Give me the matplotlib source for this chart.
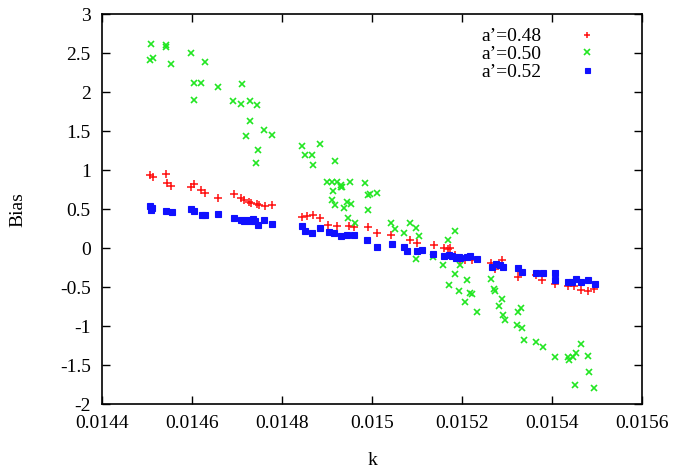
import matplotlib
matplotlib.use("Agg")
import matplotlib.pyplot as plt

plt.rcParams["font.family"] = ["Liberation Serif", "DejaVu Serif"]

# a'=0.48 (red +)
k_048 = [0.014506, 0.014513, 0.014542, 0.014544, 0.014554, 0.014598, 0.014604, 0.014621,
         0.01463, 0.014659, 0.014694, 0.01471, 0.014716, 0.014726, 0.014731, 0.014744,
         0.014748, 0.014763, 0.014779, 0.014844, 0.014856, 0.014868, 0.014885, 0.014902,
         0.014922, 0.014948, 0.014959, 0.014991, 0.01501, 0.015041, 0.015085, 0.0151,
         0.015137, 0.015159, 0.015174, 0.015168, 0.015185, 0.015196, 0.015207, 0.015222,
         0.015263, 0.015272, 0.015289, 0.015324, 0.01533, 0.015364, 0.015378, 0.015406,
         0.015436, 0.015448, 0.015463, 0.01548, 0.015492]
bias_048 = [0.94, 0.91, 0.95, 0.83, 0.80, 0.79, 0.82, 0.74,
            0.71, 0.64, 0.69, 0.64, 0.62, 0.59, 0.58, 0.56,
            0.55, 0.54, 0.55, 0.40, 0.41, 0.42, 0.38, 0.30,
            0.29, 0.29, 0.27, 0.27, 0.19, 0.17, 0.11, 0.06,
            0.04, 0.00, 0.00, -0.01, -0.09, -0.15, -0.15, -0.15,
            -0.19, -0.27, -0.15, -0.37, -0.30, -0.35, -0.41, -0.46,
            -0.49, -0.49, -0.54, -0.55, -0.53]

# a'=0.50 (green x)
k_050 = [0.014509, 0.014543, 0.014543, 0.014506, 0.014513, 0.014554, 0.014598, 0.01463,
         0.014604, 0.014621, 0.014604, 0.014659, 0.014712, 0.014692, 0.01471, 0.01473,
         0.014744, 0.014728, 0.01472, 0.01476, 0.014779, 0.014746, 0.014742, 0.014844,
         0.014885, 0.014852, 0.014867, 0.014868, 0.014918, 0.014901, 0.014911, 0.014922,
         0.01493, 0.01495, 0.014913, 0.01493, 0.014933, 0.014985, 0.014992, 0.014996,
         0.01501, 0.014911, 0.014917, 0.014944, 0.014953, 0.014938, 0.014992, 0.014947,
         0.014963, 0.015043, 0.01505, 0.015085, 0.015098, 0.015104, 0.01507, 0.015168,
         0.015185, 0.015098, 0.015136, 0.015158, 0.015195, 0.015185, 0.015211, 0.01517,
         0.015192, 0.015217, 0.015222, 0.015206, 0.015232, 0.015264, 0.01527, 0.015272,
         0.015289, 0.015281, 0.01529, 0.015295, 0.01533, 0.015324, 0.015322, 0.015332,
         0.015338, 0.015364, 0.015379, 0.015406, 0.015436, 0.015438, 0.015446, 0.015453,
         0.015463, 0.01548, 0.01545, 0.015481, 0.015493]
bias_050 = [2.62, 2.61, 2.58, 2.41, 2.44, 2.36, 2.50, 2.38,
            2.12, 2.12, 1.90, 2.06, 2.11, 1.89, 1.85, 1.88,
            1.84, 1.63, 1.44, 1.51, 1.45, 1.26, 1.09, 1.31,
            1.33, 1.20, 1.20, 1.06, 1.12, 0.85, 0.85, 0.85,
            0.81, 0.85, 0.73, 0.78, 0.78, 0.84, 0.68, 0.70,
            0.71, 0.62, 0.55, 0.59, 0.56, 0.51, 0.49, 0.38,
            0.32, 0.32, 0.24, 0.32, 0.26, 0.15, 0.19, 0.10,
            0.22, -0.14, -0.12, -0.22, -0.22, -0.33, -0.41, -0.47,
            -0.55, -0.58, -0.59, -0.69, -0.82, -0.40, -0.53, -0.55,
            -0.65, -0.74, -0.86, -0.92, -0.77, -0.82, -0.99, -1.03,
            -1.18, -1.20, -1.27, -1.40, -1.39, -1.44, -1.40, -1.35,
            -1.23, -1.38, -1.76, -1.59, -1.79]

# a'=0.52 (blue squares)
k_052 = [0.014507, 0.014509, 0.014511, 0.014543, 0.014556, 0.014598, 0.014604, 0.014622,
         0.01463, 0.014658, 0.014694, 0.01471, 0.014716, 0.014722, 0.01473, 0.014735,
         0.014741, 0.014747, 0.014761, 0.014779, 0.014844, 0.014852, 0.014867, 0.014885,
         0.014904, 0.014915, 0.01493, 0.014944, 0.014959, 0.014989, 0.01501, 0.015044,
         0.01507, 0.015078, 0.0151, 0.015111, 0.015136, 0.015159, 0.015178, 0.015192,
         0.01521, 0.01517, 0.015187, 0.015196, 0.015218, 0.015232, 0.015267, 0.015276,
         0.015285, 0.015291, 0.015324, 0.015333, 0.015364, 0.015379, 0.015406, 0.015406,
         0.015436, 0.015444, 0.015452, 0.015463, 0.01548, 0.015494]
bias_052 = [0.54, 0.49, 0.51, 0.47, 0.46, 0.50, 0.48, 0.42,
            0.42, 0.44, 0.38, 0.36, 0.35, 0.36, 0.35, 0.37,
            0.35, 0.30, 0.36, 0.31, 0.28, 0.22, 0.20, 0.26,
            0.21, 0.20, 0.15, 0.17, 0.17, 0.11, 0.02, 0.05,
            0.02, -0.04, -0.04, -0.02, -0.08, -0.10, -0.10, -0.11,
            -0.11, -0.09, -0.13, -0.13, -0.10, -0.14, -0.24, -0.20,
            -0.22, -0.24, -0.26, -0.30, -0.32, -0.32, -0.32, -0.41,
            -0.43, -0.43, -0.39, -0.43, -0.41, -0.46]

x_ticks = [0.0144, 0.0146, 0.0148, 0.015, 0.0152, 0.0154, 0.0156]
x_labels = ["0.0144", "0.0146", "0.0148", "0.015", "0.0152", "0.0154", "0.0156"]
y_ticks = [-2, -1.5, -1, -0.5, 0, 0.5, 1, 1.5, 2, 2.5, 3]
y_labels = ["-2", "-1.5", "-1", "-0.5", "0", "0.5", "1", "1.5", "2", "2.5", "3"]

fig = plt.figure(figsize=(6.74, 4.71), dpi=100)
ax = fig.add_axes([0.151, 0.142, 0.802, 0.828])

ax.plot(k_048, bias_048, linestyle="none", marker="+", color="#ff1010",
        markersize=6, markeredgewidth=1.1, label="a\u2019=0.48")
ax.plot(k_050, bias_050, linestyle="none", marker="x", color="#22e622",
        markersize=5, markeredgewidth=1.2, label="a\u2019=0.50")
ax.plot(k_052, bias_052, linestyle="none", marker="s", color="#1010ff",
        markersize=4.5, markeredgewidth=0.8, label="a\u2019=0.52")

ax.set_xlim(0.0144, 0.0156)
ax.set_ylim(-2, 3)
ax.set_xticks(x_ticks)
ax.set_xticklabels(x_labels)
ax.set_yticks(y_ticks)
ax.set_yticklabels(y_labels)
ax.tick_params(direction="in", top=True, right=True, length=6, width=1,
               labelsize=14, pad=8)
for s in ax.spines.values():
    s.set_linewidth(1.2)

ax.set_xlabel("k", fontsize=14, labelpad=14)
ax.set_ylabel("Bias", fontsize=14, labelpad=24)

ax.legend(loc="upper right", frameon=False, markerfirst=False, fontsize=14,
          handlelength=1.5, handletextpad=1.6, labelspacing=0.0,
          borderaxespad=0.3, bbox_to_anchor=(0.95, 1.0), markerscale=0.8)

fig.savefig("out.png", dpi=100)
